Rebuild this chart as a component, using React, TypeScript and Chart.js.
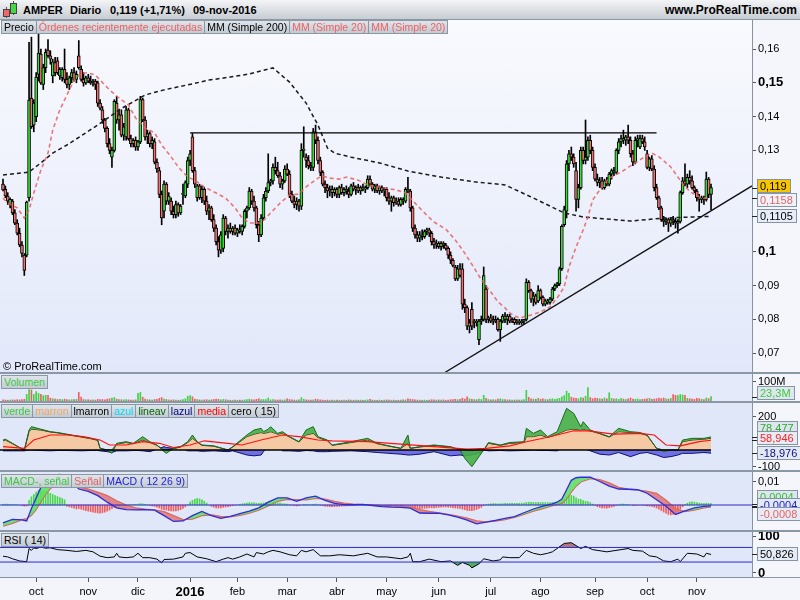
import React, { useEffect, useRef } from 'react';
import { Chart, registerables } from 'chart.js';

Chart.register(...registerables);

const FONT = '"Liberation Sans", Arial, Helvetica, sans-serif';
Chart.defaults.font.family = FONT;

// ---------- categories ----------
const firstDay = [2015, 8, 11]; // 11-sep-2015 (UTC month index)
const holidays = ['2015-12-25', '2016-01-01', '2016-03-25', '2016-03-28'];
const monthNames = ['ene', 'feb', 'mar', 'abr', 'may', 'jun', 'jul', 'ago', 'sep', 'oct', 'nov', 'dic'];

// ---------- daily candles [open, high, low, close] ----------
const ohlc: number[][] = [
[.1200,.1215,.1180,.1183],[.1185,.1195,.1160,.1165],[.1165,.1175,.1140,.1150],[.1140,.1160,.1130,.1155],[.1150,.1155,.1110,.1115],[.1115,.1125,.1080,.1085],[.1085,.1095,.1050,.1055],[.1055,.1070,.1015,.1020],[.1020,.1030,.0985,.0995],[.0990,.0995,.0930,.0945],
[.0990,.1150,.0985,.1147],[.1160,.1620,.1150,.1449],[.1455,.1635,.1365,.1370],[.1375,.1450,.1355,.1440],[.1400,.1530,.1385,.1517],[.1525,.1645,.1505,.1588],[.1585,.1600,.1495,.1500],[.1495,.1555,.1480,.1545],[.1545,.1600,.1530,.1590],[.1597,.1628,.1575,.1580],
[.1580,.1595,.1555,.1570],[.1520,.1570,.1500,.1562],[.1560,.1575,.1520,.1530],[.1565,.1575,.1525,.1530],[.1520,.1545,.1510,.1540],[.1515,.1545,.1505,.1540],[.1540,.1600,.1500,.1510],[.1510,.1530,.1485,.1495],[.1495,.1520,.1480,.1515],[.1515,.1540,.1500,.1530],
[.1530,.1545,.1505,.1510],[.1510,.1535,.1500,.1525],[.1580,.1625,.1540,.1545],[.1540,.1550,.1505,.1510],[.1510,.1530,.1490,.1500],[.1500,.1520,.1495,.1515],[.1515,.1525,.1500,.1505],[.1505,.1520,.1495,.1500],[.1500,.1510,.1490,.1505],[.1505,.1510,.1480,.1495],
[.1500,.1505,.1430,.1440],[.1440,.1450,.1420,.1425],[.1420,.1430,.1380,.1390],[.1390,.1395,.1355,.1365],[.1365,.1370,.1310,.1320],[.1320,.1335,.1290,.1300],[.1280,.1310,.1250,.1300],[.1300,.1450,.1295,.1445],[.1440,.1460,.1380,.1390],[.1390,.1420,.1360,.1405],
[.1405,.1420,.1340,.1345],[.1345,.1380,.1330,.1370],[.1340,.1430,.1330,.1420],[.1420,.1425,.1330,.1335],[.1335,.1345,.1310,.1320],[.1320,.1335,.1310,.1330],[.1330,.1340,.1300,.1310],[.1310,.1330,.1300,.1325],[.1325,.1460,.1320,.1450],[.1450,.1455,.1385,.1390],
[.1390,.1400,.1330,.1340],[.1340,.1360,.1320,.1350],[.1350,.1355,.1310,.1320],[.1320,.1340,.1305,.1330],[.1325,.1335,.1260,.1265],[.1265,.1275,.1235,.1245],[.1240,.1250,.1160,.1170],[.1170,.1180,.1080,.1100],[.1120,.1210,.1100,.1200],[.1200,.1205,.1140,.1150],
[.1150,.1175,.1140,.1165],[.1150,.1160,.1110,.1120],[.1120,.1135,.1100,.1110],[.1110,.1150,.1100,.1140],[.1140,.1145,.1105,.1115],[.1115,.1140,.1110,.1135],[.1170,.1200,.1140,.1170],[.1165,.1210,.1160,.1205],[.1200,.1280,.1190,.1270],[.1270,.1300,.1255,.1290],
[.1340,.1350,.1235,.1240],[.1240,.1250,.1190,.1200],[.1160,.1200,.1150,.1195],[.1195,.1200,.1155,.1160],[.1160,.1195,.1145,.1185],[.1185,.1190,.1140,.1150],[.1150,.1165,.1110,.1120],[.1120,.1140,.1095,.1130],[.1130,.1135,.1090,.1095],[.1095,.1110,.1060,.1070],
[.1070,.1080,.1020,.1030],[.1030,.1045,.0985,.1005],[.1005,.1060,.0995,.1050],[.1010,.1110,.1000,.1100],[.1100,.1105,.1050,.1060],[.1060,.1080,.1040,.1070],[.1070,.1085,.1055,.1060],[.1060,.1075,.1050,.1070],[.1070,.1080,.1050,.1055],[.1055,.1070,.1045,.1065],
[.1065,.1080,.1055,.1060],[.1060,.1080,.1050,.1075],[.1075,.1125,.1070,.1120],[.1120,.1135,.1100,.1130],[.1130,.1190,.1125,.1180],[.1180,.1185,.1140,.1150],[.1150,.1165,.1120,.1130],[.1130,.1135,.1070,.1080],[.1080,.1090,.1030,.1050],[.1050,.1110,.1045,.1100],
[.1100,.1170,.1095,.1160],[.1160,.1190,.1150,.1180],[.1180,.1290,.1175,.1205],[.1205,.1215,.1195,.1210],[.1210,.1260,.1200,.1250],[.1250,.1280,.1230,.1240],[.1240,.1265,.1220,.1225],[.1225,.1235,.1190,.1200],[.1200,.1215,.1185,.1210],[.1210,.1255,.1205,.1245],
[.1245,.1260,.1225,.1230],[.1230,.1240,.1160,.1170],[.1170,.1180,.1145,.1150],[.1150,.1165,.1130,.1140],[.1140,.1160,.1125,.1150],[.1150,.1155,.1120,.1135],[.1135,.1320,.1125,.1300],[.1300,.1370,.1280,.1300],[.1280,.1290,.1250,.1270],[.1270,.1285,.1245,.1255],
[.1255,.1265,.1240,.1250],[.1250,.1365,.1240,.1355],[.1355,.1375,.1320,.1330],[.1330,.1340,.1260,.1270],[.1270,.1280,.1225,.1235],[.1235,.1240,.1195,.1200],[.1200,.1210,.1175,.1190],[.1190,.1200,.1160,.1180],[.1180,.1195,.1165,.1185],[.1185,.1195,.1160,.1175],
[.1175,.1190,.1165,.1185],[.1185,.1190,.1160,.1170],[.1170,.1195,.1160,.1190],[.1190,.1200,.1170,.1175],[.1175,.1190,.1165,.1185],[.1185,.1195,.1170,.1180],[.1180,.1190,.1160,.1170],[.1170,.1200,.1165,.1195],[.1195,.1205,.1180,.1185],[.1185,.1195,.1170,.1190],
[.1190,.1200,.1175,.1180],[.1180,.1195,.1170,.1190],[.1190,.1200,.1180,.1185],[.1185,.1195,.1175,.1190],[.1190,.1225,.1185,.1215],[.1215,.1225,.1195,.1200],[.1200,.1205,.1180,.1185],[.1185,.1200,.1175,.1195],[.1195,.1200,.1175,.1180],[.1180,.1195,.1170,.1190],
[.1190,.1195,.1175,.1180],[.1180,.1190,.1165,.1185],[.1185,.1190,.1150,.1160],[.1160,.1175,.1140,.1150],[.1150,.1165,.1120,.1160],[.1160,.1165,.1135,.1145],[.1145,.1160,.1140,.1150],[.1150,.1160,.1135,.1140],[.1140,.1160,.1135,.1155],[.1155,.1160,.1140,.1150],
[.1150,.1190,.1145,.1185],[.1185,.1220,.1175,.1180],[.1180,.1185,.1120,.1130],[.1130,.1135,.1060,.1070],[.1070,.1080,.1040,.1050],[.1050,.1060,.1030,.1040],[.1040,.1060,.1030,.1050],[.1050,.1065,.1035,.1045],[.1045,.1065,.1040,.1060],[.1060,.1070,.1050,.1065],
[.1065,.1070,.1045,.1055],[.1055,.1060,.1020,.1030],[.1030,.1040,.1010,.1020],[.1020,.1035,.1010,.1025],[.1025,.1030,.1010,.1015],[.1015,.1030,.1005,.1025],[.1025,.1030,.1010,.1020],[.1020,.1025,.1005,.1010],[.1010,.1015,.0980,.0990],[.0990,.1000,.0965,.0975],
[.0975,.0980,.0955,.0960],[.0955,.0960,.0915,.0920],[.0920,.0960,.0915,.0950],[.0950,.0965,.0925,.0930],[.0950,.0965,.0830,.0845],[.0845,.0860,.0820,.0835],[.0835,.0840,.0770,.0780],[.0780,.0800,.0760,.0790],[.0830,.0850,.0770,.0780],[.0790,.0800,.0775,.0795],
[.0795,.0800,.0780,.0790],[.0740,.0800,.0725,.0795],[.0795,.0810,.0785,.0800],[.0800,.0955,.0795,.0930],[.0890,.0900,.0790,.0800],[.0800,.0810,.0790,.0805],[.0805,.0815,.0790,.0795],[.0795,.0810,.0785,.0800],[.0800,.0810,.0790,.0795],[.0800,.0805,.0765,.0770],
[.0770,.0800,.0735,.0795],[.0795,.0815,.0790,.0810],[.0810,.0820,.0790,.0800],[.0800,.0815,.0785,.0810],[.0810,.0815,.0790,.0795],[.0795,.0805,.0790,.0800],[.0800,.0805,.0785,.0790],[.0790,.0800,.0785,.0795],[.0795,.0800,.0785,.0790],[.0790,.0800,.0785,.0795],
[.0795,.0800,.0785,.0800],[.0800,.0920,.0795,.0910],[.0910,.0915,.0880,.0885],[.0885,.0890,.0850,.0860],[.0860,.0880,.0840,.0870],[.0870,.0875,.0845,.0850],[.0855,.0900,.0850,.0885],[.0885,.0890,.0860,.0865],[.0865,.0870,.0840,.0845],[.0845,.0860,.0840,.0855],
[.0855,.0860,.0845,.0850],[.0850,.0865,.0845,.0860],[.0860,.0895,.0855,.0890],[.0890,.0905,.0885,.0900],[.0900,.0910,.0895,.0905],[.0905,.0955,.0900,.0950],[.0950,.1080,.0945,.1075],[.1080,.1135,.1075,.1125],[.1120,.1270,.1100,.1260],[.1260,.1300,.1240,.1290],
[.1290,.1310,.1270,.1280],[.1280,.1290,.1250,.1260],[.1240,.1265,.1120,.1155],[.1155,.1200,.1130,.1190],[.1190,.1310,.1185,.1300],[.1300,.1310,.1260,.1270],[.1270,.1390,.1260,.1280],[.1280,.1340,.1270,.1330],[.1330,.1345,.1290,.1300],[.1300,.1310,.1240,.1250],
[.1250,.1260,.1210,.1215],[.1215,.1230,.1195,.1205],[.1205,.1220,.1190,.1210],[.1210,.1220,.1185,.1190],[.1190,.1215,.1185,.1210],[.1210,.1220,.1195,.1200],[.1200,.1235,.1195,.1230],[.1230,.1245,.1215,.1240],[.1240,.1250,.1225,.1235],[.1235,.1305,.1230,.1300],
[.1300,.1335,.1290,.1325],[.1325,.1345,.1310,.1335],[.1335,.1360,.1320,.1330],[.1330,.1345,.1315,.1340],[.1340,.1375,.1320,.1330],[.1330,.1340,.1280,.1290],[.1290,.1300,.1255,.1265],[.1265,.1340,.1260,.1330],[.1330,.1345,.1310,.1335],[.1310,.1345,.1305,.1335],
[.1335,.1345,.1320,.1325],[.1325,.1340,.1300,.1310],[.1290,.1300,.1245,.1250],[.1250,.1280,.1240,.1275],[.1275,.1285,.1240,.1245],[.1245,.1255,.1180,.1190],[.1190,.1200,.1155,.1160],[.1160,.1165,.1125,.1130],[.1130,.1135,.1090,.1095],[.1095,.1105,.1075,.1090],
[.1090,.1100,.1080,.1095],[.1095,.1100,.1060,.1085],[.1085,.1100,.1075,.1095],[.1095,.1105,.1080,.1090],[.1090,.1100,.1070,.1085],[.1085,.1095,.1055,.1090],[.1090,.1180,.1085,.1175],[.1175,.1220,.1170,.1210],[.1210,.1260,.1195,.1200],[.1200,.1230,.1190,.1220],
[.1220,.1240,.1200,.1210],[.1210,.1225,.1185,.1190],[.1190,.1195,.1175,.1180],[.1180,.1185,.1150,.1160],[.1160,.1170,.1120,.1155],[.1155,.1165,.1145,.1160],[.1160,.1165,.1140,.1155],[.1155,.1236,.1150,.1215],[.1215,.1220,.1160,.1170],[.1170,.1200,.1125,.1190],
];

// ---------- daily volume (millions) ----------
const volumeM: number[] = [
6,5,4,5,6,5,7,6,8,9, 35,60,58,35,50,40,35,28,30,30, 15,12,10,8,9,7,10,8,6,7, 8,9,45,20,8,6,7,5,6,5,
9,7,8,6,10,12,15,18,10,8, 7,6,8,6,5,5,6,40,45,20, 10,7,6,5,8,9,14,18,10,8, 6,5,6,5,4,5,8,12,25,28,
22,10,8,6,5,6,7,5,6,8, 10,9,6,8,7,5,4,4,5,4, 5,4,6,8,10,7,6,9,12,7, 8,7,16,6,8,6,5,6,5,6,
12,8,6,5,5,6,18,9,6,5, 5,6,10,7,6,5,4,5,4,5, 4,5,4,4,5,4,6,5,4,5, 4,5,4,5,6,9,5,4,4,5,
4,5,6,5,4,5,4,4,5,6, 6,11,9,8,6,5,5,4,5,4, 5,7,6,5,6,5,6,4,5,7, 8,9,7,9,15,10,22,12,9,8,
7,10,8,30,14,8,6,7,6,10, 12,8,7,6,6,5,5,6,5,6, 8,56,20,12,10,9,14,10,12,8, 7,10,12,9,11,14,22,28,52,40,
20,16,14,12,18,16,25,70,18,12, 15,14,12,10,16,12,43,14,10,12, 9,14,10,8,12,16,10,9,11,8, 9,10,12,14,9,10,12,15,13,16,
12,10,14,34,30,28,34,32,30,14, 12,10,9,14,12,10,8,16,12,23.3,
];

// ---------- moving averages (read at sample days) ----------
const ma200Idx = [0,11,16,21,27,33,38,45,49,54,60,68,80,87,96,104,114,121,128,133,137,140,147,159,171,185,199,212,224,237,245,265,279,299];
const ma200Val = [.1227,.1236,.1263,.1292,.1316,.1343,.1366,.1399,.1420,.1440,.1464,.1479,.1497,.1508,.1517,.1526,.1544,.1502,.1440,.1375,.1307,.1292,.1280,.1263,.1239,.1221,.1207,.1198,.1159,.1115,.1103,.1091,.1100,.1105];

const ma20Idx = [0,2,6,9,11,13,16,19,21,24,27,30,33,36,39,41,45,49,53,56,60,64,67,71,74,78,81,85,90,94,98,101,104,109,113,117,121,125,128,133,135,138,142,145,150,154,159,166,170,174,178,182,187,191,195,199,202,206,209,212,214,218,223,227,231,234,237,239,242,245,247,249,252,256,261,265,269,272,274,277,282,285,288,291,295,299];
const ma20Val = [.1159,.1144,.1130,.1100,.1124,.1174,.1242,.1292,.1360,.1420,.1464,.1508,.1529,.1529,.1523,.1508,.1479,.1455,.1434,.1396,.1366,.1352,.1316,.1281,.1251,.1221,.1212,.1192,.1174,.1159,.1130,.1100,.1085,.1085,.1115,.1144,.1168,.1171,.1192,.1218,.1224,.1218,.1215,.1221,.1212,.1198,.1192,.1183,.1174,.1144,.1115,.1088,.1067,.1035,.0996,.0952,.0917,.0881,.0852,.0834,.0819,.0804,.0813,.0822,.0837,.0863,.0896,.0955,.1014,.1065,.1103,.1153,.1183,.1218,.1236,.1254,.1272,.1286,.1292,.1281,.1251,.1221,.1192,.1174,.1159,.1158];

// trend lines
const resistIdx = [79, 276];
const resistVal = [0.1352, 0.1352];
const supportIdx = [185, 316.3];
const supportVal = [0.0636, 0.1195];

// ---------- oscillator panel ----------
const oscIdx = [0,1,4,7,9,11,12,16,20,23,27,33,37,40,41,44,46,48,52,55,57,59,62,65,68,69,72,75,78,80,82,84,89,95,97,103,106,109,110,112,113,116,118,121,125,128,131,133,137,139,147,154,158,163,168,171,172,176,182,189,193,195,198,201,203,205,210,214,220,221,224,227,230,234,238,241,244,245,248,252,256,260,265,269,272,276,279,282,285,287,291,296,299];
const oscLineav = [60,65,40,15,0,120,140,125,110,105,95,80,70,60,10,0,-20,40,50,40,60,80,50,30,-10,-20,10,20,50,90,50,30,25,0,20,90,120,130,110,125,140,100,110,80,50,120,140,80,60,30,50,70,40,25,10,90,10,20,30,20,0,-50,-100,-40,0,45,30,45,50,130,100,120,80,110,250,220,140,170,120,100,80,130,110,105,90,10,-10,0,0,60,70,70,78.477];
const oscLmarron = [55,60,38,14,0,110,125,120,108,103,93,78,68,58,10,0,0,35,45,38,50,60,45,28,0,0,8,18,45,70,48,28,23,0,18,80,95,105,100,105,110,95,100,78,48,90,100,75,55,28,45,60,38,23,10,40,10,18,28,18,0,0,-5,0,0,40,28,40,45,80,80,90,75,95,120,125,120,125,115,98,78,110,105,100,88,10,0,0,0,50,60,65,70];
const oscLazul = [-5,-5,-5,-5,-5,0,0,-3,-5,-3,-3,-5,-3,-3,-5,-10,-15,-5,-5,-3,-3,-5,-10,5,20,15,10,15,-5,-5,-5,-8,-5,-10,-5,-30,-35,-30,-10,20,40,30,-5,-5,-8,-3,-5,-10,-10,-8,-5,-10,-15,-20,-25,-30,-30,-25,-10,-35,-30,-35,-30,-20,0,-5,-3,-5,-3,-3,0,-3,-3,-5,25,20,15,10,-5,-25,-30,-15,-40,-20,-15,-30,-45,-40,-30,-20,-20,-15,-18.976];
const mediaIdx = [0,9,13,20,27,34,41,45,52,59,66,72,79,85,95,101,109,118,125,133,139,154,168,182,196,204,214,221,231,241,247,258,269,275,280,286,294,299];
const mediaVal = [20,10,60,90,90,80,60,30,30,50,40,15,30,55,40,30,60,90,80,60,55,50,35,20,5,10,25,50,80,115,115,95,100,90,30,25,50,58.946];

// ---------- MACD ----------
const macdIdx = [0,4,8,10,12,14,16,18,20,24,28,32,36,40,44,48,52,56,60,64,68,72,76,80,84,88,92,96,100,104,108,112,116,120,124,128,132,136,140,144,148,152,156,160,164,168,172,176,180,184,188,192,196,200,204,208,212,216,220,224,228,232,234,236,238,240,242,244,248,252,256,260,264,268,272,276,280,284,288,292,296,299];
const macdLine = [-.0076,-.0061,-.0063,-.0068,-.0015,.0030,.0075,.0105,.0125,.0130,.0110,.0068,.0058,.0040,.0012,-.0012,-.0020,-.0021,-.0020,-.0022,-.0045,-.0070,-.0068,-.0045,-.0027,-.0045,-.0057,-.0048,-.0037,-.0026,-.0012,.0012,.0030,.0030,.0016,.0030,.0038,.0020,.0007,.0002,.0001,.0003,-.0003,-.0007,-.0009,-.0010,-.0013,-.0034,-.0035,-.0035,-.0042,-.0052,-.0064,-.0080,-.0073,-.0065,-.0057,-.0049,-.0033,-.0017,-.0005,.0005,.0012,.0025,.0065,.0105,.0116,.0118,.0118,.0100,.0080,.0068,.0067,.0065,.0050,.0022,-.0005,-.0040,-.0025,-.0012,-.0006,-.0004];
const macdSignal = [-.0090,-.0078,-.0062,-.0058,-.0044,-.0020,.0015,.0045,.0070,.0095,.0100,.0078,.0068,.0055,.0040,.0018,.0000,-.0012,-.0018,-.0021,-.0028,-.0045,-.0062,-.0060,-.0045,-.0042,-.0048,-.0050,-.0044,-.0035,-.0022,-.0004,.0016,.0024,.0023,.0022,.0028,.0025,.0015,.0008,.0004,.0002,.0000,-.0003,-.0005,-.0005,-.0008,-.0020,-.0027,-.0034,-.0040,-.0047,-.0056,-.0068,-.0072,-.0068,-.0062,-.0053,-.0040,-.0026,-.0015,-.0003,.0003,.0007,.0025,.0055,.0080,.0098,.0112,.0108,.0094,.0075,.0067,.0064,.0058,.0050,.0020,-.0015,-.0028,-.0022,-.0012,-.0008];
const macdHist: number[] = [
.0003,.0004,.0004,.0003,.0002,.0002,.0001,.0000,-.0003,-.0005, -.0004,.0020,.0035,.0045,.0055,.0062,.0064,.0060,.0058,.0055,
.0050,.0045,.0040,.0036,.0032,.0028,.0022,-.0005,-.0008,-.0011, -.0014,-.0017,-.0015,-.0018,-.0021,-.0024,-.0026,-.0028,-.0030,-.0032,
-.0034,-.0035,-.0033,-.0030,-.0026,-.0022,-.0016,-.0010,-.0006,-.0004, -.0003,-.0002,-.0001,.0001,.0002,.0002,.0003,.0004,.0006,.0005,
.0003,.0001,-.0002,-.0004,-.0006,-.0009,-.0013,-.0018,-.0020,-.0022, -.0024,-.0025,-.0026,-.0025,-.0023,-.0020,-.0015,-.0008,.0002,.0012,
.0020,.0025,.0028,.0026,.0022,.0016,.0008,.0000,-.0006,-.0009, -.0012,-.0013,-.0012,-.0010,-.0009,-.0007,-.0005,-.0003,-.0001,.0001,
.0003,.0005,.0007,.0008,.0010,.0010,.0009,.0008,.0007,.0008, .0009,.0011,.0012,.0012,.0011,.0010,.0009,.0008,.0006,.0005,
.0004,.0002,-.0001,-.0003,-.0004,-.0003,.0000,.0002,.0003,.0002, .0001,.0003,.0004,.0002,-.0001,-.0003,-.0005,-.0006,-.0007,-.0007,
-.0007,-.0006,-.0006,-.0005,-.0004,-.0004,-.0003,-.0002,-.0002,-.0001, -.0001,.0000,.0001,.0001,.0002,.0002,.0001,.0000,-.0001,-.0002,
-.0002,-.0003,-.0003,-.0004,-.0004,-.0004,-.0004,-.0004,-.0004,-.0003, -.0002,-.0002,-.0005,-.0009,-.0012,-.0014,-.0015,-.0015,-.0014,-.0013,
-.0012,-.0012,-.0012,-.0011,-.0010,-.0009,-.0009,-.0008,-.0009,-.0010, -.0011,-.0013,-.0014,-.0015,-.0018,-.0020,-.0023,-.0024,-.0024,-.0022,
-.0019,-.0015,-.0010,-.0003,.0002,.0004,.0005,.0006,.0006,.0005, .0005,.0006,.0007,.0007,.0007,.0007,.0007,.0007,.0007,.0008,
.0008,.0011,.0012,.0011,.0011,.0010,.0011,.0011,.0010,.0010, .0010,.0010,.0011,.0012,.0013,.0016,.0022,.0028,.0036,.0040,
.0041,.0038,.0030,.0025,.0024,.0019,.0016,.0015,.0010,.0004, -.0002,-.0007,-.0010,-.0012,-.0013,-.0013,-.0011,-.0009,-.0006,-.0002,
.0002,.0004,.0004,.0003,.0002,.0000,-.0002,-.0002,-.0001,.0000, -.0001,-.0002,-.0004,-.0005,-.0006,-.0009,-.0013,-.0018,-.0024,-.0030,
-.0035,-.0040,-.0042,-.0040,-.0034,-.0027,-.0018,-.0008,.0002,.0008, .0012,.0013,.0012,.0010,.0008,.0007,.0006,.0008,.0007,.0006,
];

// ---------- RSI (14) ----------
const rsiIdx = [0,2,4,7,10,11,12,13,14,16,18,20,23,27,31,35,38,41,44,47,48,49,52,55,57,59,62,65,67,68,72,76,77,79,82,86,90,93,95,97,100,103,106,107,110,112,114,117,121,124,126,128,131,134,138,142,148,154,158,162,168,171,172,173,176,180,185,189,192,194,197,198,201,203,207,210,211,214,218,221,224,227,230,232,237,240,242,244,246,249,255,261,264,266,270,273,276,279,282,285,286,289,293,296,297,299];
const rsiVal = [46,44,39,33,31,67,62,69,67,71,68,69,64,62,59,62,58,46,42,44,54,44,42,44,54,42,42,38,28,37,38,44,54,56,44,39,31,38,42,38,44,52,44,56,52,58,62,58,50,47,62,58,64,47,47,50,47,54,44,44,39,44,54,31,31,38,31,33,21,29,21,14,25,39,33,36,44,42,42,62,54,50,54,58,81,83,75,67,73,64,58,64,67,62,60,47,44,33,31,38,31,54,52,44,54,50.826];

// ---------- axis ticks ----------
const priceShownTicks = [0.07, 0.08, 0.09, 0.1, 0.13, 0.14, 0.15, 0.16];
const volumeTicks = [100];
const oscTicks = [200, -100];
const macdTicks = [0.01];
const rsiTicks = [100, 0];
const rsiLevels = [70, 30];

// ---------- last-value labels ----------
const lastClose = 0.119;
const lastMa20 = 0.1158;
const lastMa200 = 0.1105;

// ================= helpers =================
const XMIN = -1.27;
const XMAX = 316.3;
const GREEN = '#3ddc3d';
const RED = '#f07070';

function tradingDays(n: number): Date[] {
  const out: Date[] = [];
  const d = new Date(Date.UTC(firstDay[0], firstDay[1], firstDay[2]));
  while (out.length < n) {
    const wd = d.getUTCDay();
    const iso = d.toISOString().slice(0, 10);
    if (wd !== 0 && wd !== 6 && !holidays.includes(iso)) out.push(new Date(d.getTime()));
    d.setUTCDate(d.getUTCDate() + 1);
  }
  return out;
}
const days = tradingDays(ohlc.length);
const monthTicks: { value: number; label: string }[] = [];
for (let i = 1; i < days.length; i++) {
  if (days[i].getUTCMonth() !== days[i - 1].getUTCMonth()) {
    const m = days[i].getUTCMonth();
    monthTicks.push({ value: i, label: m === 0 ? String(days[i].getUTCFullYear()) : monthNames[m] });
  }
}

const pts = (xs: number[], ys: number[]) => xs.map((x, i) => ({ x, y: ys[i] }));
const hline = (v: number, x1 = XMIN, x2 = XMAX) => [{ x: x1, y: v }, { x: x2, y: v }];
const up = (r: number[]) => r[3] >= r[0];
const fmtComma = (v: number) => String(+v.toFixed(4)).replace('.', ',');

const xHidden = { type: 'linear', min: XMIN, max: XMAX, display: false, offset: false };

function yScale(min: number, max: number, ticks: number[], fmt: (v: number) => string, font?: any) {
  return {
    position: 'right',
    min,
    max,
    afterFit: (s: any) => { s.width = 48; s.paddingTop = 0; s.paddingBottom = 0; },
    afterBuildTicks: (s: any) => { s.ticks = ticks.map((v) => ({ value: v })); },
    ticks: { autoSkip: false, padding: 2, color: '#000', font: font || { family: FONT, size: 11 }, callback: (v: any) => fmt(Number(v)) },
    grid: { drawOnChartArea: false, drawTicks: true, tickLength: 4, tickColor: '#555' },
    border: { display: true, color: '#8494a3', width: 1 },
  };
}

type VLabel = { value: number; text: string; color: string; bg: string; dy: number };
function valueLabels(items: VLabel[]) {
  return {
    id: 'vlabels',
    afterDraw(chart: any) {
      const ctx = chart.ctx;
      const ys = chart.scales.y;
      ctx.save();
      ctx.font = `11px ${FONT}`;
      ctx.textBaseline = 'middle';
      items.forEach((it) => {
        const y0 = ys.getPixelForValue(it.value);
        const y = Math.round(y0 + it.dy);
        const w = Math.ceil(ctx.measureText(it.text).width) + 6;
        ctx.strokeStyle = '#222';
        ctx.beginPath(); ctx.moveTo(752, Math.round(y0) + 0.5); ctx.lineTo(757, Math.round(y0) + 0.5); ctx.stroke();
        ctx.fillStyle = it.bg;
        ctx.fillRect(757, y - 7, w, 14);
        ctx.strokeStyle = '#8494a3';
        ctx.strokeRect(757.5, y - 6.5, w, 13);
        ctx.fillStyle = it.color;
        ctx.fillText(it.text, 760, y + 1);
      });
      ctx.restore();
    },
  };
}

const common = {
  responsive: false,
  animation: false,
  events: [],
  layout: { padding: 0 },
  plugins: { legend: { display: false }, tooltip: { enabled: false } },
};

// ================= chart configs =================
function priceConfig(): any {
  const bodyColors = ohlc.map((r) => (up(r) ? GREEN : RED));
  return {
    type: 'bar',
    data: {
      datasets: [
        { type: 'line', data: pts(resistIdx, resistVal), borderColor: '#000', borderWidth: 1.3, pointRadius: 0 },
        { type: 'line', data: pts(supportIdx, supportVal), borderColor: '#111', borderWidth: 1.3, pointRadius: 0 },
        { type: 'line', data: pts(ma20Idx, ma20Val), borderColor: 'rgba(232,96,96,0.85)', borderWidth: 1.6, borderDash: [4, 3], pointRadius: 0 },
        { type: 'line', data: pts(ma200Idx, ma200Val), borderColor: '#1a1a1a', borderWidth: 1.5, borderDash: [4, 3], pointRadius: 0 },
        { type: 'bar', data: ohlc.map((r, i) => ({ x: i, y: [r[0], r[3]] })), backgroundColor: bodyColors, borderColor: '#000', borderWidth: 1, barThickness: 3, grouped: false, borderSkipped: false, minBarLength: 1 },
        { type: 'bar', data: ohlc.map((r, i) => ({ x: i, y: [r[2], r[1]] })), backgroundColor: '#000', borderWidth: 0, barThickness: 1, grouped: false, borderSkipped: false },
      ],
    },
    options: {
      ...common,
      scales: {
        x: xHidden,
        y: yScale(0.06444, 0.16858, priceShownTicks, (v) => String(+v.toFixed(2)).replace('.', ','), (ctx: any) => {
          const v = ctx.tick ? +ctx.tick.value.toFixed(2) : 0;
          const b = v === 0.15 || v === 0.1;
          return { family: FONT, size: b ? 13 : 11, weight: b ? 'bold' : 'normal' };
        }),
      },
    },
    plugins: [valueLabels([
      { value: lastClose, text: fmtComma(lastClose), color: '#000', bg: '#f7c600', dy: -2 },
      { value: lastMa20, text: fmtComma(lastMa20), color: '#e86464', bg: '#eef2fa', dy: 2 },
      { value: lastMa200, text: fmtComma(lastMa200), color: '#000', bg: '#e6edf8', dy: 0 },
    ])],
  };
}

function volumeConfig(): any {
  return {
    type: 'bar',
    data: {
      datasets: [
        { data: volumeM.map((v, i) => ({ x: i, y: v })), backgroundColor: ohlc.map((r) => (up(r) ? '#44d044' : '#ee6060')), barThickness: 1, borderWidth: 0, grouped: false },
      ],
    },
    options: {
      ...common,
      scales: { x: xHidden, y: yScale(0, 142, volumeTicks, (v) => `${v}M`) },
    },
    plugins: [valueLabels([{ value: volumeM[volumeM.length - 1], text: '23,3M', color: '#3ccc3c', bg: '#dfe6ef', dy: -4 }])],
  };
}

function oscConfig(): any {
  return {
    type: 'line',
    data: {
      datasets: [
        { data: hline(0, XMIN, ohlc.length - 1), borderColor: '#000', borderWidth: 1.6, pointRadius: 0 },
        { data: pts(mediaIdx, mediaVal), borderColor: '#ff1010', borderWidth: 1.1, pointRadius: 0 },
        { data: pts(oscIdx, oscLineav), borderColor: '#1b6a1b', borderWidth: 1, pointRadius: 0, fill: { target: 3, above: 'rgba(70,175,70,0.9)', below: 'rgba(70,175,70,0.9)' } },
        { data: pts(oscIdx, oscLmarron), borderColor: '#3b1f0c', borderWidth: 1, pointRadius: 0, fill: { target: 'origin', above: '#f4c9a4', below: 'rgba(0,0,0,0)' } },
        { data: pts(oscIdx, oscLazul), borderColor: '#0c0c70', borderWidth: 1, pointRadius: 0, fill: { target: 'origin', above: '#6f6fe6', below: '#6f6fe6' } },
      ],
    },
    options: {
      ...common,
      scales: { x: xHidden, y: yScale(-120, 282, oscTicks, (v) => String(v)) },
    },
    plugins: [valueLabels([
      { value: 78.477, text: '78,477', color: '#2fa82f', bg: '#dde5ef', dy: -9 },
      { value: 58.946, text: '58,946', color: '#ff2020', bg: '#e6ecf5', dy: -2 },
      { value: -18.976, text: '-18,976', color: '#101080', bg: '#e2e9f4', dy: 0 },
    ])],
  };
}

function macdConfig(): any {
  return {
    type: 'bar',
    data: {
      datasets: [
        { type: 'line', data: hline(0), borderColor: '#2a2ad0', borderWidth: 1, pointRadius: 0 },
        { type: 'line', data: pts(macdIdx, macdLine), borderColor: '#2c2ce0', borderWidth: 1.3, pointRadius: 0, fill: { target: 2, above: 'rgba(90,225,90,0.85)', below: 'rgba(225,110,110,0.8)' } },
        { type: 'line', data: pts(macdIdx, macdSignal), borderColor: '#e05a5a', borderWidth: 1.3, pointRadius: 0 },
        { type: 'bar', data: macdHist.map((v, i) => ({ x: i, y: v })), backgroundColor: macdHist.map((v) => (v >= 0 ? '#4cd64c' : '#ee5e5e')), barThickness: 1, borderWidth: 0, grouped: false },
      ],
    },
    options: {
      ...common,
      scales: { x: xHidden, y: yScale(-0.010638, 0.014043, macdTicks, (v) => fmtComma(v)) },
    },
    plugins: [valueLabels([
      { value: 0.0004, text: '0,0004', color: '#33c033', bg: '#dde5ef', dy: -7 },
      { value: -0.0004, text: '-0,0004', color: '#2020d0', bg: '#e2e9f4', dy: -1 },
      { value: -0.0008, text: '-0,0008', color: '#e86464', bg: '#e6ecf5', dy: 7 },
    ])],
  };
}

function rsiConfig(): any {
  const labelMap = new Map(monthTicks.map((t) => [t.value, t.label]));
  return {
    type: 'line',
    data: {
      datasets: [
        { data: hline(rsiLevels[0]), borderColor: '#2a2ad0', borderWidth: 1, pointRadius: 0 },
        { data: hline(rsiLevels[1]), borderColor: '#2a2ad0', borderWidth: 1, pointRadius: 0 },
        { data: pts(rsiIdx, rsiVal), borderColor: '#000', borderWidth: 1, pointRadius: 0, fill: { target: { value: rsiLevels[0] }, above: 'rgba(168,92,92,0.8)', below: 'rgba(0,0,0,0)' } },
        { data: pts(rsiIdx, rsiVal), borderColor: 'rgba(0,0,0,0)', borderWidth: 0, pointRadius: 0, fill: { target: { value: rsiLevels[1] }, above: 'rgba(0,0,0,0)', below: 'rgba(60,160,60,0.85)' } },
      ],
    },
    options: {
      ...common,
      scales: {
        x: {
          type: 'linear', min: XMIN, max: XMAX, offset: false, position: 'bottom',
          afterFit: (s: any) => { s.height = 23; s.paddingLeft = 0; s.paddingRight = 0; },
          afterBuildTicks: (s: any) => { s.ticks = monthTicks.map((t) => ({ value: t.value })); },
          ticks: {
            autoSkip: false, maxRotation: 0, minRotation: 0, padding: 3, color: '#000',
            callback: (v: any) => labelMap.get(Number(v)) || '',
            font: (ctx: any) => {
              const b = ctx.tick && /^\d+$/.test(labelMap.get(ctx.tick.value) || '');
              return { family: FONT, size: b ? 13 : 11, weight: b ? 'bold' : 'normal' };
            },
          },
          grid: { drawOnChartArea: false, drawTicks: true, tickLength: 5, tickColor: '#555' },
          border: { display: true, color: '#8494a3' },
        },
        y: yScale(-10.96, 112.3, rsiTicks, (v) => String(v), { family: FONT, size: 13, weight: 'bold' }),
      },
    },
    plugins: [valueLabels([{ value: 50.826, text: '50,826', color: '#000', bg: '#e6ecf5', dy: 0 }])],
  };
}

// ================= layout =================
const PANEL_BORDER = '#8a97a4';

function Panel({ top, height, bg }: { top: number; height: number; bg: string }) {
  return (
    <>
      <div style={{ position: 'absolute', left: 0, top, width: 752, height, background: bg, borderTop: `1px solid ${PANEL_BORDER}`, borderBottom: `1px solid ${PANEL_BORDER}`, boxSizing: 'border-box' }} />
      <div style={{ position: 'absolute', left: 752, top, width: 48, height, background: '#f4f6fc', borderTop: `1px solid ${PANEL_BORDER}`, borderBottom: `1px solid ${PANEL_BORDER}`, boxSizing: 'border-box' }} />
    </>
  );
}

function Legend({ top, items }: { top: number; items: [string, string][] }) {
  return (
    <div style={{ position: 'absolute', left: 1, top, display: 'flex', zIndex: 3 }}>
      {items.map(([t, c], i) => (
        <div key={i} style={{ font: `10.5px ${FONT}`, color: c, height: 12, lineHeight: '12px', padding: '0 2px', background: 'linear-gradient(#dfe4ea,#c2cbd4)', border: `1px solid ${PANEL_BORDER}`, marginLeft: i ? -1 : 0, whiteSpace: 'nowrap' }}>{t}</div>
      ))}
    </div>
  );
}

export default function App() {
  const priceRef = useRef<HTMLCanvasElement>(null);
  const volRef = useRef<HTMLCanvasElement>(null);
  const oscRef = useRef<HTMLCanvasElement>(null);
  const macdRef = useRef<HTMLCanvasElement>(null);
  const rsiRef = useRef<HTMLCanvasElement>(null);

  useEffect(() => {
    const charts = [
      new Chart(priceRef.current as any, priceConfig()),
      new Chart(volRef.current as any, volumeConfig()),
      new Chart(oscRef.current as any, oscConfig()),
      new Chart(macdRef.current as any, macdConfig()),
      new Chart(rsiRef.current as any, rsiConfig()),
    ];
    return () => charts.forEach((c) => c.destroy());
  }, []);

  const cv = (top: number, h: number): React.CSSProperties => ({ position: 'absolute', left: 0, top, width: 800, height: h, zIndex: 1 });
  const hdr: React.CSSProperties = { position: 'absolute', top: 3, font: `bold 11px ${FONT}`, color: '#000', whiteSpace: 'pre', lineHeight: '14px' };

  return (
    <div style={{ position: 'fixed', left: 0, top: 0, width: 800, height: 600, overflow: 'hidden', background: '#eef1f7', fontFamily: FONT }}>
      {/* header */}
      <div style={{ position: 'absolute', left: 0, top: 0, width: 800, height: 20, background: 'linear-gradient(#f3f4f6,#c8cdd3)', borderBottom: `1px solid ${PANEL_BORDER}`, boxSizing: 'border-box' }}>
        <div style={{ position: 'absolute', left: 6, top: 7, width: 1, height: 11, background: '#555' }} />
        <div style={{ position: 'absolute', left: 3, top: 9, width: 5, height: 6, background: '#f06a6a', border: '1px solid #444' }} />
        <div style={{ position: 'absolute', left: 13, top: 1, width: 1, height: 14, background: '#555' }} />
        <div style={{ position: 'absolute', left: 10, top: 3, width: 5, height: 9, background: '#44d844', border: '1px solid #444' }} />
        <span style={{ ...hdr, left: 23 }}>AMPER</span>
        <span style={{ ...hdr, left: 70 }}>Diario</span>
        <span style={{ ...hdr, left: 110 }}>0,119 (+1,71%)</span>
        <span style={{ ...hdr, left: 193 }}>09-nov-2016</span>
        <span style={{ ...hdr, right: 3, font: `bold 12px ${FONT}` }}>www.ProRealTime.com</span>
      </div>

      <Panel top={19} height={354} bg="linear-gradient(#f9fafe,#e2e8fa)" />
      <Panel top={373} height={29} bg="#e4eafa" />
      <Panel top={402} height={69} bg="#e0e7f9" />
      <Panel top={471} height={60} bg="#e0e7f9" />
      <Panel top={531} height={47} bg="#e0e7f9" />
      <div style={{ position: 'absolute', left: 0, top: 578, width: 800, height: 22, background: '#f3f5fa' }} />

      <canvas ref={priceRef} width={800} height={352} style={cv(20, 352)} />
      <canvas ref={volRef} width={800} height={27} style={cv(374, 27)} />
      <canvas ref={oscRef} width={800} height={67} style={cv(403, 67)} />
      <canvas ref={macdRef} width={800} height={58} style={cv(472, 58)} />
      <canvas ref={rsiRef} width={800} height={68} style={cv(532, 68)} />

      <Legend top={20} items={[['Precio', '#000'], ['Órdenes recientemente ejecutadas', '#f06060'], ['MM (Simple 200)', '#000'], ['MM (Simple 20)', '#f06060'], ['MM (Simple 20)', '#f06060']]} />
      <Legend top={375} items={[['Volumen', '#3cc83c']]} />
      <Legend top={404} items={[['verde', '#3cc83c'], ['marron', '#f4a460'], ['lmarron', '#000'], ['azul', '#00dcff'], ['lineav', '#006400'], ['lazul', '#000080'], ['media', '#ff0000'], ['cero ( 15)', '#000']]} />
      <Legend top={474} items={[['MACD-, señal', '#3cc83c'], ['Señal', '#e86060'], ['MACD ( 12 26 9)', '#2020e0']]} />
      <Legend top={533} items={[['RSI ( 14)', '#000']]} />

      <div style={{ position: 'absolute', left: 3, top: 360, font: `11px ${FONT}`, color: '#000', zIndex: 3 }}>© ProRealTime.com</div>
    </div>
  );
}
